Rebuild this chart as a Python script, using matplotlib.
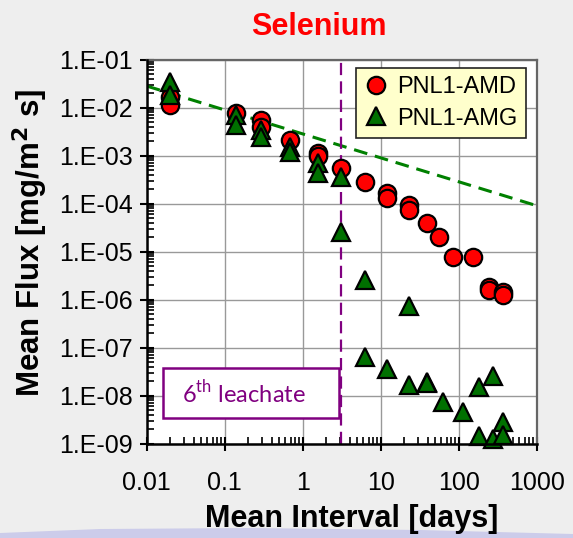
import matplotlib
matplotlib.use("Agg")
import matplotlib.pyplot as plt
from matplotlib.ticker import LogLocator, FixedLocator, NullFormatter
from matplotlib.patches import Rectangle, Polygon

plt.rcParams['font.family'] = ['Liberation Sans', 'DejaVu Sans']
plt.rcParams['mathtext.fontset'] = 'custom'
plt.rcParams['mathtext.rm'] = 'Lato'

# ---- data ----
amd_x = [0.02, 0.02, 0.14, 0.29, 0.29, 0.69, 1.56, 1.56, 3.06, 6.2, 11.9, 11.9,
         23, 23, 39.8, 56, 83.6, 153, 244, 244, 372, 372]
amd_y = [0.0166, 0.0113, 0.0076, 0.0055, 0.0040, 0.0021, 0.00111, 0.00098, 0.00054,
         2.84e-4, 1.62e-4, 1.28e-4, 9.3e-5, 7.3e-5, 3.9e-5, 2.0e-5, 7.8e-6, 7.8e-6,
         1.86e-6, 1.58e-6, 1.45e-6, 1.23e-6]

amg_x = [0.02, 0.02, 0.14, 0.14, 0.29, 0.29, 0.69, 0.69, 1.56, 1.56, 3.06, 3.06,
         6.2, 6.2, 11.9, 23, 23, 39.8, 39.8, 62.7, 113.7, 181, 181, 277, 277, 372, 372]
amg_y = [0.0345, 0.0182, 0.0070, 0.0043, 0.0034, 0.00245, 0.0015, 0.0012, 6.9e-4, 4.3e-4,
         3.6e-4, 2.6e-5, 2.57e-6, 6.3e-8, 3.5e-8, 7.3e-7, 1.66e-8, 1.95e-8, 1.8e-8,
         7.4e-9, 4.6e-9, 1.48e-8, 1.45e-9, 2.56e-8, 1.24e-9, 2.8e-9, 1.5e-9]

trend_x = [0.01, 1000]
trend_y = [0.028, 9.0e-5]

leachate6_x = 3.06

x_ticks = [0.01, 0.1, 1, 10, 100, 1000]
x_labels = ['0.01', '0.1', '1', '10', '100', '1000']
y_ticks = [1e-9, 1e-8, 1e-7, 1e-6, 1e-5, 1e-4, 1e-3, 1e-2, 1e-1]
y_labels = ['1.E-09', '1.E-08', '1.E-07', '1.E-06', '1.E-05', '1.E-04', '1.E-03', '1.E-02', '1.E-01']

# ---- figure ----
W, H = 573, 538
fig = plt.figure(figsize=(W / 100, H / 100), dpi=100)
fig.patch.set_facecolor('#eeeeee')

# decorative lavender swoosh at bottom
band = Polygon([(0, 0), (0, 5 / H), (100 / W, 9 / H), (250 / W, 10 / H), (420 / W, 8 / H),
                (1, 4 / H), (1, 0)], closed=True, transform=fig.transFigure,
               facecolor='#ccccea', edgecolor='none', zorder=0)
fig.patches.append(band)

ax = fig.add_axes([146.7 / W, 1 - 443.5 / H, 390 / W, 384 / H])
ax.set_facecolor('white')
ax.set_xscale('log')
ax.set_yscale('log')
ax.set_xlim(0.01, 1000)
ax.set_ylim(1e-9, 1e-1)

ax.grid(True, which='major', color='#999999', linewidth=1.0, zorder=0)
ax.set_axisbelow(True)

ax.plot(trend_x, trend_y, color='#008000', linewidth=2.2, dashes=(4.5, 2.6), zorder=2)
ax.axvline(leachate6_x, color='#800080', linewidth=1.6, dashes=(5.5, 2.8), zorder=2)

ax.plot(amd_x, amd_y, linestyle='none', marker='o', markersize=12.5,
        markerfacecolor='#ff0000', markeredgecolor='black', markeredgewidth=1.6,
        label='PNL1-AMD', zorder=3, clip_on=False)
ax.plot(amg_x, amg_y, linestyle='none', marker='^', markersize=12.5,
        markerfacecolor='#007000', markeredgecolor='black', markeredgewidth=1.6,
        label='PNL1-AMG', zorder=4, clip_on=False)

ax.xaxis.set_major_locator(FixedLocator(x_ticks))
ax.set_xticklabels(x_labels)
ax.yaxis.set_major_locator(FixedLocator(y_ticks))
ax.set_yticklabels(y_labels)
ax.xaxis.set_minor_locator(LogLocator(base=10, subs=range(2, 10), numticks=20))
ax.yaxis.set_minor_locator(LogLocator(base=10, subs=range(2, 10), numticks=20))
ax.xaxis.set_minor_formatter(NullFormatter())
ax.yaxis.set_minor_formatter(NullFormatter())

ax.tick_params(axis='both', which='major', direction='inout', length=10, width=1.5,
               labelsize=18, color='black')
ax.tick_params(axis='x', which='major', pad=15)
ax.tick_params(axis='y', which='major', pad=5)
ax.tick_params(axis='both', which='minor', direction='in', length=5, width=1.2, color='black')
ax.tick_params(top=False, right=False, which='both')

for s in ['left', 'bottom']:
    ax.spines[s].set_color('black')
    ax.spines[s].set_linewidth(1.8)
    ax.spines[s].set_zorder(5)
for s in ['top', 'right']:
    ax.spines[s].set_color('#666666')
    ax.spines[s].set_linewidth(1.6)

# 6th leachate box
rect = Rectangle((0.043, 0.066), 0.451, 0.131, transform=ax.transAxes,
                 facecolor='white', edgecolor='#800080', linewidth=1.8, zorder=3)
ax.add_patch(rect)
ax.text(0.25, 0.131, r'6$^{\mathrm{th}}$ leachate', transform=ax.transAxes,
        ha='center', va='center', fontsize=17, color='#800080', family='Lato', zorder=4)

leg = ax.legend(loc='upper right', bbox_to_anchor=(526 / W, 1 - 68 / H),
                bbox_transform=fig.transFigure, fontsize=17, frameon=True,
                fancybox=False, framealpha=1, handlelength=1.0, handletextpad=0.4,
                borderpad=0.35, labelspacing=0.4, borderaxespad=0)
leg.get_frame().set_facecolor('#ffffcc')
leg.get_frame().set_edgecolor('#222222')
leg.get_frame().set_linewidth(1.2)
leg.set_zorder(6)

fig.text(319 / W, 1 - 35 / H, 'Selenium', color='#ff0000', fontsize=22,
         fontweight='bold', ha='center', va='baseline')
fig.text(352 / W, 1 - 527 / H, 'Mean Interval [days]', fontsize=22,
         fontweight='bold', ha='center', va='baseline')
fig.text(30 / W, 1 - 243 / H, 'Mean Flux [mg/m$^{\\mathbf{2}}$ s]', fontsize=22.5,
         fontweight='bold', ha='center', va='center', rotation=90)

fig.savefig('out.png', dpi=100, facecolor=fig.get_facecolor())
